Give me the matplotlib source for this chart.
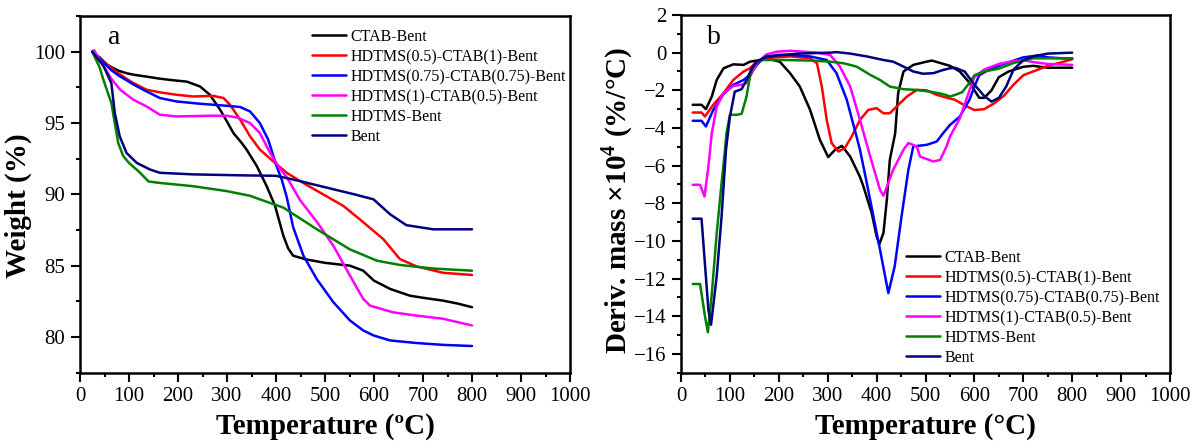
import matplotlib
matplotlib.use("Agg")
import matplotlib.pyplot as plt
from matplotlib.ticker import MultipleLocator

# ---------------- data: panel a (TGA, weight %) ----------------
labels = ["CTAB-Bent", "HDTMS(0.5)-CTAB(1)-Bent", "HDTMS(0.75)-CTAB(0.75)-Bent",
          "HDTMS(1)-CTAB(0.5)-Bent", "HDTMS-Bent", "Bent"]
colors = ["#000000", "#ff0000", "#0000ff", "#ff00ff", "#008000", "#000080"]

tga_ctab_x = [25, 40, 55, 68, 80, 95, 110, 136, 160, 184, 218, 245, 265, 286, 300, 313, 330, 340, 361, 381,
              398, 415, 425, 435, 460, 500, 551, 578, 600, 633, 673, 700, 741, 770, 800]
tga_ctab_y = [100.0, 99.6, 99.1, 98.84, 98.65, 98.49, 98.38, 98.25, 98.12, 98.02, 97.9, 97.56, 96.98, 95.93, 95.1,
              94.3, 93.6, 93.14, 91.97, 90.57, 89.2, 87.1, 86.2, 85.7, 85.45, 85.2, 85.0, 84.65, 83.95, 83.37,
              82.9, 82.75, 82.55, 82.35, 82.09]

tga_h05_x = [25, 40, 55, 68, 80, 95, 109, 136, 163, 197, 231, 272, 293, 306, 327, 347, 367, 394, 422, 449,
             490, 537, 571, 619, 653, 687, 741, 800]
tga_h05_y = [100.0, 99.55, 99.1, 98.75, 98.45, 98.1, 97.8, 97.33, 97.15, 96.98, 96.86, 96.9, 96.75, 96.28, 95.23,
             94.07, 93.14, 92.32, 91.51, 90.93, 90.12, 89.2, 88.25, 86.86, 85.46, 84.95, 84.5, 84.35]

tga_h075_x = [25, 40, 55, 64, 80, 95, 109, 136, 163, 197, 245, 299, 327, 347, 367, 384, 401, 412, 422, 435,
              456, 483, 517, 551, 578, 600, 633, 687, 741, 800]
tga_h075_y = [100.0, 99.5, 99.0, 98.7, 98.3, 98.0, 97.7, 97.21, 96.75, 96.51, 96.35, 96.21, 96.12, 95.81, 95.0,
              93.84, 92.0, 91.0, 89.8, 87.7, 85.7, 84.07, 82.44, 81.16, 80.46, 80.1, 79.76, 79.58, 79.45, 79.37]

tga_h1_x = [25, 29, 40, 55, 64, 82, 109, 136, 163, 197, 265, 299, 320, 347, 367, 388, 408, 422, 449, 483,
            517, 551, 578, 592, 639, 687, 741, 800]
tga_h1_y = [100.0, 100.1, 99.4, 98.6, 98.1, 97.33, 96.63, 96.16, 95.58, 95.46, 95.51, 95.51, 95.39, 95.0, 94.3,
            92.9, 91.8, 91.2, 89.6, 88.1, 86.4, 84.3, 82.67, 82.2, 81.73, 81.5, 81.28, 80.81]

tga_hd_x = [25, 40, 48, 64, 78, 88, 100, 120, 140, 163, 231, 299, 347, 367, 415, 483, 551, 606, 653, 721, 800]
tga_hd_y = [100.0, 98.9, 98.0, 96.4, 93.6, 92.7, 92.2, 91.6, 90.9, 90.8, 90.57, 90.23, 89.9, 89.65, 89.07,
            87.56, 86.14, 85.35, 85.05, 84.8, 84.65]

tga_bent_x = [25, 48, 64, 71, 81, 95, 116, 143, 163, 231, 333, 400, 449, 470, 500, 560, 599, 633, 666, 721, 800]
tga_bent_y = [100.0, 99.0, 97.79, 95.7, 94.07, 92.9, 92.2, 91.74, 91.51, 91.4, 91.33, 91.3, 90.93, 90.75, 90.5,
              90.0, 89.65, 88.6, 87.84, 87.55, 87.55]

# ---------------- data: panel b (DTG, deriv. mass x1e4) ----------------
dtg_ctab_x = [24, 42, 51, 63, 73, 87, 107, 128, 141, 162, 182, 202, 223, 243, 264, 284, 301, 315, 329, 346,
              366, 373, 390, 400, 405.6, 414, 421, 427, 438, 444, 455, 475, 502, 513, 550, 570, 590, 610, 620,
              635, 650, 670, 700, 720, 750, 800]
dtg_ctab_y = [-2.77, -2.77, -3.0, -2.33, -1.45, -0.83, -0.62, -0.65, -0.48, -0.39, -0.35, -0.48, -1.09, -1.8,
              -3.04, -4.63, -5.55, -5.16, -4.95, -5.52, -6.6, -7.1, -8.52, -9.76, -10.17, -9.58, -7.8, -5.7,
              -4.28, -2.15, -1.0, -0.65, -0.48, -0.42, -0.7, -1.0, -1.6, -2.4, -2.4, -2.0, -1.3, -1.0, -0.75,
              -0.7, -0.8, -0.8]

dtg_h05_x = [24, 42, 49, 66, 87, 107, 128, 141, 155, 168, 196, 223, 264, 278, 288, 298, 308, 322, 335, 349,
             366, 383, 400, 414, 427, 441, 462, 482, 502, 523, 543, 560, 580, 600, 620, 640, 660, 680, 700,
             720, 750, 780, 800]
dtg_h05_y = [-3.18, -3.18, -3.39, -2.77, -2.15, -1.45, -1.0, -0.83, -0.48, -0.3, -0.25, -0.2, -0.3, -0.56,
             -1.8, -3.57, -4.8, -5.25, -5.07, -4.46, -3.57, -3.04, -2.95, -3.22, -3.22, -2.86, -2.33, -1.98,
             -2.0, -2.24, -2.39, -2.5, -2.8, -3.05, -3.0, -2.7, -2.3, -1.7, -1.2, -1.0, -0.7, -0.5, -0.35]

dtg_h075_x = [24, 42, 51, 66, 87, 107, 128, 141, 155, 168, 196, 223, 264, 298, 318, 339, 359, 366, 380, 407,
              424, 437, 451, 465, 475, 502, 523, 536, 550, 570, 590, 600, 610, 630, 660, 700, 730, 750, 780, 800]
dtg_h075_y = [-3.62, -3.62, -3.92, -3.04, -2.2, -1.71, -1.45, -1.18, -0.65, -0.3, -0.12, -0.12, -0.2, -0.39,
              -1.09, -2.5, -4.46, -5.16, -6.93, -10.47, -12.77, -11.35, -8.7, -6.22, -4.98, -4.9, -4.72, -4.28,
              -3.84, -3.4, -2.5, -1.8, -1.2, -0.9, -0.6, -0.25, -0.15, -0.25, -0.3, -0.3]

dtg_h1_x = [24, 39, 48, 56, 63, 73, 87, 107, 124, 134, 141, 155, 175, 196, 223, 250, 278, 305, 325, 346, 366,
            387, 407, 414, 434, 455, 465, 482, 489, 516, 530, 543, 550, 570, 590, 600, 620, 650, 680, 700, 720,
            750, 800]
dtg_h1_y = [-7.02, -7.02, -7.64, -6.05, -4.28, -2.86, -2.15, -1.77, -1.71, -1.62, -1.27, -0.56, -0.09, 0.05,
            0.1, 0.05, 0.0, -0.12, -0.74, -1.8, -3.57, -5.52, -7.29, -7.6, -6.22, -5.16, -4.8, -4.98, -5.52,
            -5.78, -5.7, -4.98, -4.46, -3.5, -2.0, -1.3, -0.9, -0.6, -0.45, -0.4, -0.5, -0.6, -0.65]

dtg_hd_x = [24, 39, 49, 55, 63, 73, 83, 90, 93, 100, 114, 124, 134, 141, 148, 155, 168, 209, 264, 305, 332,
            359, 387, 407, 427, 455, 482, 509, 536, 550, 560, 575, 590, 600, 620, 650, 680, 720, 750, 800]
dtg_hd_y = [-12.29, -12.29, -14.0, -14.85, -12.8, -9.6, -6.93, -5.16, -4.28, -3.3, -3.3, -3.25, -2.33, -1.27,
            -0.74, -0.48, -0.39, -0.39, -0.42, -0.48, -0.56, -0.74, -1.18, -1.45, -1.8, -1.94, -1.98, -2.07,
            -2.2, -2.33, -2.25, -2.1, -1.6, -1.2, -1.0, -0.85, -0.55, -0.3, -0.3, -0.3]

dtg_bent_x = [24, 42, 56, 61.4, 73, 83, 92, 100, 110, 124, 134, 145, 155, 175, 209, 243, 278, 305, 318, 346,
              380, 414, 434, 455, 475, 495, 516, 536, 550, 560, 580, 600, 620, 635, 650, 665, 680, 700, 720,
              750, 800]
dtg_bent_y = [-8.82, -8.82, -13.65, -14.45, -11.88, -8.7, -5.16, -3.4, -2.07, -1.94, -1.45, -0.83, -0.48, -0.2,
              -0.12, -0.05, -0.02, 0.0, 0.03, -0.05, -0.2, -0.39, -0.48, -0.74, -1.0, -1.12, -1.09, -0.92,
              -0.83, -0.8, -1.0, -1.7, -2.3, -2.6, -2.4, -1.8, -0.9, -0.4, -0.2, -0.05, 0.0]

tga_series = [(tga_ctab_x, tga_ctab_y), (tga_h05_x, tga_h05_y), (tga_h075_x, tga_h075_y),
              (tga_h1_x, tga_h1_y), (tga_hd_x, tga_hd_y), (tga_bent_x, tga_bent_y)]
dtg_series = [(dtg_ctab_x, dtg_ctab_y), (dtg_h05_x, dtg_h05_y), (dtg_h075_x, dtg_h075_y),
              (dtg_h1_x, dtg_h1_y), (dtg_hd_x, dtg_hd_y), (dtg_bent_x, dtg_bent_y)]

# ---------------- style ----------------
plt.rcParams['font.family'] = ['Liberation Serif', 'DejaVu Serif']
plt.rcParams['mathtext.fontset'] = 'custom'
plt.rcParams['mathtext.rm'] = 'Liberation Serif'
plt.rcParams['mathtext.bf'] = 'Liberation Serif:bold'

fig = plt.figure(figsize=(11.94, 4.41), dpi=100)
W, H = 1194.0, 441.0
axa = fig.add_axes([80 / W, 1 - 372.7 / H, 490 / W, (372.7 - 16) / H])
axb = fig.add_axes([681 / W, 1 - 372.7 / H, 489 / W, (372.7 - 15) / H])

lw = 1.8
for (x, y), c, lab in zip(tga_series, colors, labels):
    axa.plot(x, y, color=c, lw=lw, label=lab, solid_capstyle='round', solid_joinstyle='round')
for (x, y), c, lab in zip(dtg_series, colors, labels):
    axb.plot(x, y, color=c, lw=lw, label=lab, solid_capstyle='round', solid_joinstyle='round')

axa.set_xlim(0, 1000)
axa.set_ylim(77.5, 102.5)
axa.yaxis.set_major_locator(MultipleLocator(5))
axa.yaxis.set_minor_locator(MultipleLocator(2.5))
axb.set_xlim(0, 1000)
axb.set_ylim(-17, 2)
axb.yaxis.set_major_locator(MultipleLocator(2))
axb.yaxis.set_minor_locator(MultipleLocator(1))

for ax in (axa, axb):
    ax.xaxis.set_major_locator(MultipleLocator(100))
    ax.xaxis.set_minor_locator(MultipleLocator(50))
    ax.tick_params(which='both', direction='out', top=False, right=False, labelsize=15, width=1.5)
    ax.tick_params(which='major', length=6.5, pad=4)
    ax.tick_params(which='minor', length=3)
    for s in ax.spines.values():
        s.set_linewidth(1.8)
    ax.set_xlabel('Temperature (ºC)' if ax is axa else 'Temperature (°C)', fontsize=21,
                  fontweight='bold', labelpad=5)

axa.set_ylabel('Weight (%)', fontsize=21, fontweight='bold')
axb.set_ylabel(r'Deriv. mass ×10$^{\mathbf{4}}$ (%/°C)', fontsize=21, fontweight='bold')
axa.yaxis.set_label_coords((32 - 80) / 490, 1 - (206 - 16) / 356.7)
axb.yaxis.set_label_coords((635 - 681) / 489, 1 - (200 - 15) / 357.7)

axa.text(57, 100.96, 'a', fontsize=20, ha='left', va='center')
axb.text(53, 0.83, 'b', fontsize=20, ha='left', va='center')

leg_kw = dict(frameon=False, fontsize=11.5, handlelength=2.1, handletextpad=0.3, labelspacing=0.25,
              borderpad=0, borderaxespad=0, loc='upper left')
axa.legend(bbox_to_anchor=((312 - 80) / 490, 1 - (29 - 16) / 356.7), **leg_kw)
axb.legend(bbox_to_anchor=((906 - 681) / 489, 1 - (250 - 15) / 357.7), **leg_kw)

fig.savefig('out.png', dpi=100)
